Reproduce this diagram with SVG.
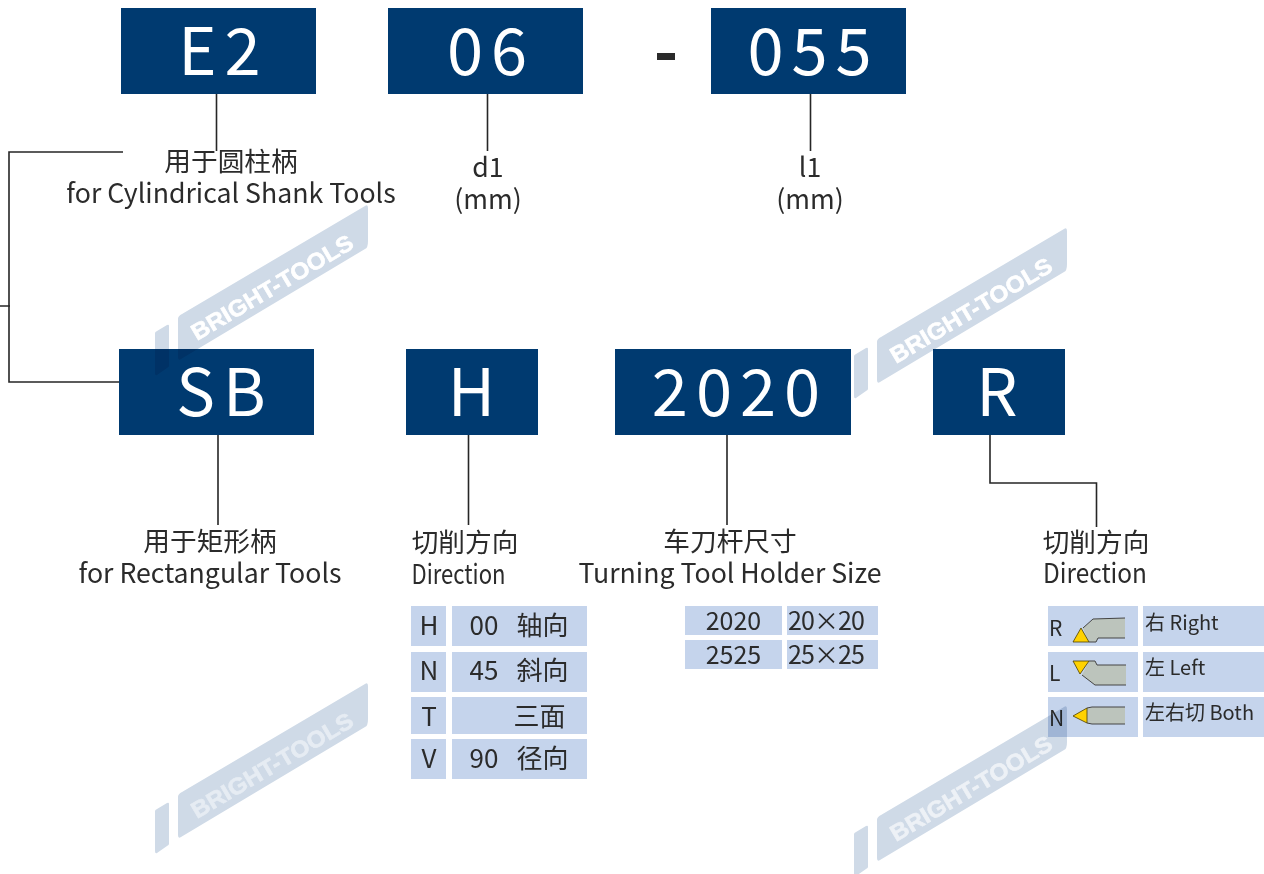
<svg xmlns="http://www.w3.org/2000/svg" width="1264" height="874" viewBox="0 0 1264 874">
<style>
text{font-family:"Noto Sans CJK SC","Noto Sans",sans-serif;fill:#2b2b2b}
.b{fill:#003a70}
.bt{font-size:65px;fill:#fff;text-anchor:middle;letter-spacing:8px}
.l{font-size:26.7px;text-anchor:middle}
.c{fill:#c5d4ec}
.t{font-size:26px;text-anchor:middle}
.u{font-size:25px;text-anchor:middle}
.s{font-size:20px}
.r{font-size:21px}
.ln{fill:none;stroke:#262626;stroke-width:1.6}
.body{fill:#bcc4bc}
.edge{fill:none;stroke:#444;stroke-width:1}
.ins{fill:#ffd200;stroke:#4a3c00;stroke-width:.8}
.wm{fill:#cfdae7}
.wt{font-family:"Liberation Sans",sans-serif;font-weight:700;font-size:23px;fill:var(--w);stroke:var(--w);stroke-width:.6}
#watermarks{mix-blend-mode:multiply}
</style>
<defs>
<g id="mark">
<path class="wm" d="M155 333Q155 332 157 331L167 325Q169 324 169 326L169 366Q169 367 167 368L157 375Q155 376 155 373Z"/>
<path class="wm" d="M178 319Q178 316 182 314L365 206Q368 204 368 208L368 241Q368 248 365 249L181 359Q178 361 178 357Z"/>
<text class="wt" transform="translate(197 341) rotate(-30.7)" textLength="184" lengthAdjust="spacingAndGlyphs">BRIGHT-TOOLS</text>
</g>
</defs>
<g id="connectors">
<path class="ln" d="M216.500 94V151M123 152H9V382H119M0 306H10M487.500 94V151M810.500 94V151M218 435V525M468.500 435V525M727 435V525M990 435V483H1096.500V527"/>
</g>
<g id="n-e2"><rect class="b" x="121" y="8" width="195" height="86"/><text class="bt" x="223.500" y="75">E2</text></g>
<g id="n-06"><rect class="b" x="388" y="8" width="195" height="86"/><text class="bt" x="491" y="75">06</text></g>
<g id="n-dash"><text x="666" y="75" font-size="66" font-weight="700" text-anchor="middle">-</text></g>
<g id="n-055"><rect class="b" x="711" y="8" width="195" height="86"/><text class="bt" x="813.500" y="75">055</text></g>
<g id="n-sb"><rect class="b" x="119" y="349" width="195" height="86"/><text class="bt" x="225" y="416">SB</text></g>
<g id="n-h"><rect class="b" x="406" y="349" width="132" height="86"/><text class="bt" x="475.500" y="416">H</text></g>
<g id="n-2020"><rect class="b" x="615" y="349" width="236" height="86"/><text class="bt" x="740" y="416">2020</text></g>
<g id="n-r"><rect class="b" x="933" y="349" width="132" height="86"/><text class="bt" x="1001" y="416">R</text></g>
<g id="labels">
<text class="l" x="231" y="171">用于圆柱柄</text><text class="l" x="231" y="203">for Cylindrical Shank Tools</text>
<text class="l" x="488" y="177">d1</text><text class="l" x="488" y="209">(mm)</text>
<text class="l" x="810" y="177">l1</text><text class="l" x="810" y="209">(mm)</text>
<text class="l" x="210" y="551">用于矩形柄</text><text class="l" x="210" y="583">for Rectangular Tools</text>
<text class="l" x="465" y="552">切削方向</text><text class="l" x="458.500" y="584" textLength="94" lengthAdjust="spacingAndGlyphs">Direction</text>
<text class="l" x="730" y="551">车刀杆尺寸</text><text class="l" x="730" y="583">Turning Tool Holder Size</text>
<text class="l" x="1096" y="552">切削方向</text><text class="l" x="1095" y="583" textLength="104" lengthAdjust="spacingAndGlyphs">Direction</text>
</g>
<g id="table-h">
<rect class="c" x="411" y="606" width="35" height="40"/><rect class="c" x="452" y="606" width="135" height="40"/>
<rect class="c" x="411" y="652" width="35" height="40"/><rect class="c" x="452" y="652" width="135" height="40"/>
<rect class="c" x="411" y="697" width="35" height="37"/><rect class="c" x="452" y="697" width="135" height="37"/>
<rect class="c" x="411" y="739" width="35" height="40"/><rect class="c" x="452" y="739" width="135" height="40"/>
<text class="t" x="429" y="635">H</text><text class="t" x="484" y="635">00</text><text class="t" x="542.500" y="635">轴向</text>
<text class="t" x="429" y="680">N</text><text class="t" x="484" y="680">45</text><text class="t" x="542.500" y="680">斜向</text>
<text class="t" x="429" y="726">T</text><text class="t" x="539.500" y="726">三面</text>
<text class="t" x="429" y="768">V</text><text class="t" x="484" y="768">90</text><text class="t" x="542.500" y="768">径向</text>
</g>
<g id="table-size">
<rect class="c" x="685" y="606" width="97" height="29"/><rect class="c" x="787" y="606" width="91" height="29"/>
<rect class="c" x="685" y="640" width="97" height="29"/><rect class="c" x="787" y="640" width="91" height="29"/>
<text class="u" x="733.500" y="630">2020</text><text class="u" x="826.500" y="630" textLength="77">20×20</text>
<text class="u" x="733.500" y="664">2525</text><text class="u" x="826.500" y="664" textLength="77">25×25</text>
</g>
<g id="table-dir">
<rect class="c" x="1048" y="606" width="90" height="40"/><rect class="c" x="1143" y="606" width="121" height="40"/>
<rect class="c" x="1048" y="652" width="90" height="40"/><rect class="c" x="1143" y="652" width="121" height="40"/>
<rect class="c" x="1048" y="697" width="90" height="40"/><rect class="c" x="1143" y="697" width="121" height="40"/>
<text class="r" x="1049" y="636">R</text><text class="r" x="1049" y="681">L</text><text class="r" x="1049" y="726">N</text>
<text class="s" x="1145" y="630">右 Right</text><text class="s" x="1145" y="675">左 Left</text><text class="s" x="1145" y="720">左右切 Both</text>
<path class="body" d="M1083 628L1093 619L1125 618V638H1098L1096 642H1089Z"/>
<path class="edge" d="M1083 628L1093 619L1125 618M1125 638H1098L1096 642H1089"/>
<path class="ins" d="M1081 628L1089 642H1073Z"/>
<path class="body" d="M1089 661H1095L1097 665H1126V685H1095L1082 675Z"/>
<path class="edge" d="M1089 661H1095L1097 665H1126M1126 685H1095L1082 675"/>
<path class="ins" d="M1073 661H1089L1080 674Z"/>
<path class="body" d="M1087 708L1092 707H1125V724H1092L1087 723Z"/>
<path class="edge" d="M1087 708L1092 707H1125M1125 724H1092L1087 723"/>
<path class="ins" d="M1073 716L1087 708V723Z"/>
</g>
<g id="watermarks">
<use href="#mark" style="--w:#fff"/>
<use href="#mark" style="--w:#fff" transform="translate(699 23)"/>
<use href="#mark" style="--w:#e6ecf3" transform="translate(0 478)"/>
<use href="#mark" style="--w:#edf1f6" transform="translate(699 501)"/>
</g>
</svg>
